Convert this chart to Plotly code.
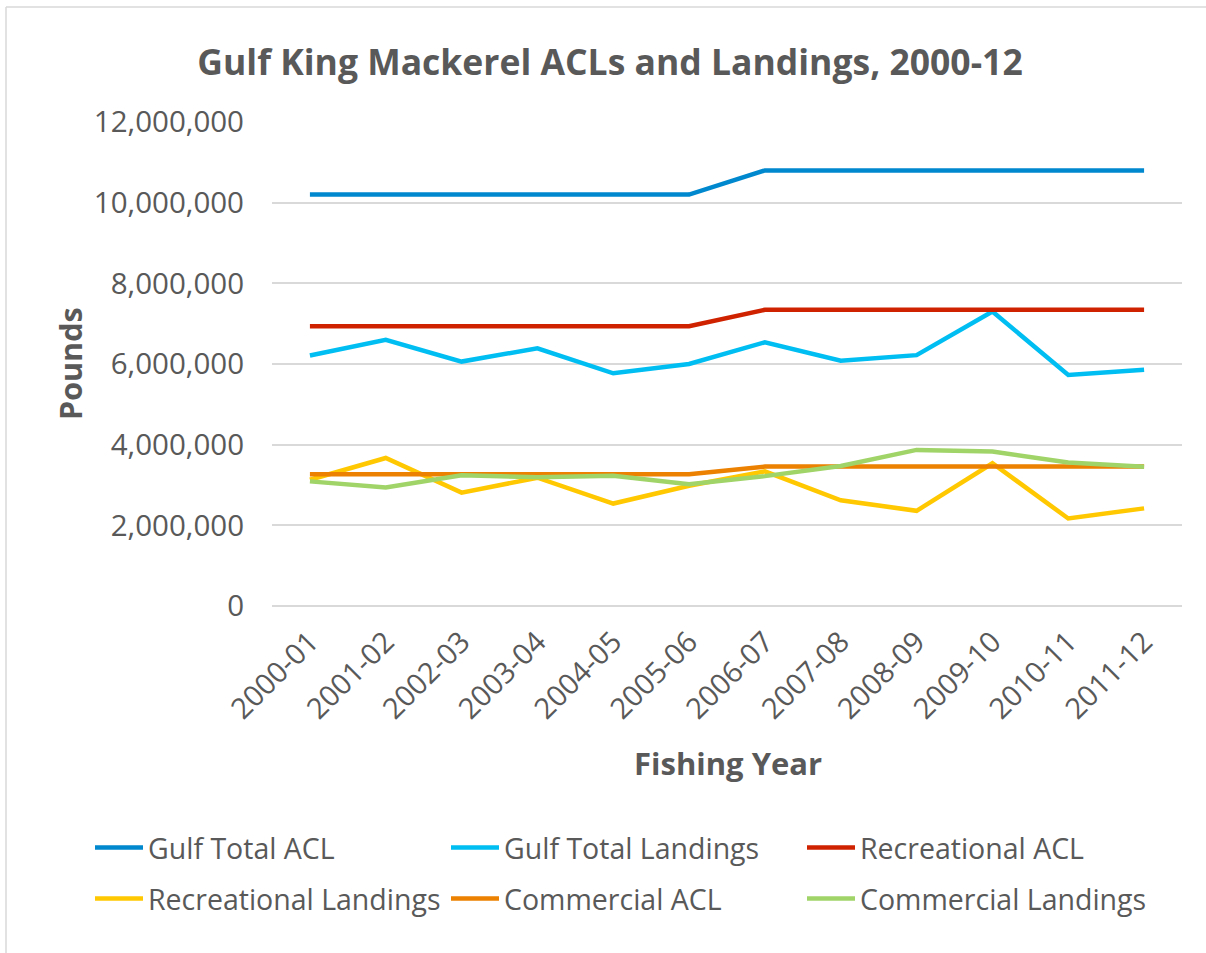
import plotly.graph_objects as go

years = ["2000-01", "2001-02", "2002-03", "2003-04", "2004-05", "2005-06",
         "2006-07", "2007-08", "2008-09", "2009-10", "2010-11", "2011-12"]

gulf_total_acl = [10200000, 10200000, 10200000, 10200000, 10200000, 10200000,
                  10800000, 10800000, 10800000, 10800000, 10800000, 10800000]
gulf_total_landings = [6210000, 6600000, 6060000, 6390000, 5770000, 6000000,
                       6540000, 6080000, 6220000, 7300000, 5730000, 5860000]
recreational_acl = [6936000, 6936000, 6936000, 6936000, 6936000, 6936000,
                    7344000, 7344000, 7344000, 7344000, 7344000, 7344000]
recreational_landings = [3130000, 3670000, 2810000, 3180000, 2540000, 2980000,
                         3340000, 2620000, 2360000, 3540000, 2170000, 2420000]
commercial_acl = [3264000, 3264000, 3264000, 3264000, 3264000, 3264000,
                  3456000, 3456000, 3456000, 3456000, 3456000, 3456000]
commercial_landings = [3090000, 2940000, 3240000, 3190000, 3230000, 3020000,
                       3220000, 3470000, 3870000, 3830000, 3560000, 3450000]

series = [
    ("Gulf Total ACL", gulf_total_acl, "#0088CE", "legend"),
    ("Gulf Total Landings", gulf_total_landings, "#00BEF2", "legend"),
    ("Recreational ACL", recreational_acl, "#CF2200", "legend"),
    ("Recreational Landings", recreational_landings, "#FFC800", "legend2"),
    ("Commercial ACL", commercial_acl, "#EC8000", "legend2"),
    ("Commercial Landings", commercial_landings, "#A0D468", "legend2"),
]

TEXT = "#595959"
FONT = "Open Sans"

fig = go.Figure()
for name, vals, color, leg in series:
    fig.add_trace(go.Scatter(
        x=years, y=vals, name=name, mode="lines",
        line=dict(color=color, width=4.5),
        legend=leg,
    ))

W, H = 1206, 953
L, R, T, B = 272, 24, 122, 347
pw, ph = W - L - R, H - T - B

def px_x(p):
    return (p - L) / pw

def px_y(p):
    return (H - B - p) / ph

legend_common = dict(
    orientation="h",
    font=dict(family=FONT, size=28.5, color=TEXT),
    entrywidth=293,
    entrywidthmode="pixels",
    itemwidth=48,
    bgcolor="rgba(0,0,0,0)",
    xanchor="left",
    yanchor="middle",
    itemclick=False,
)

fig.update_layout(
    width=W, height=H,
    margin=dict(l=L, r=R, t=T, b=B, autoexpand=False),
    paper_bgcolor="white",
    plot_bgcolor="white",
    font=dict(family=FONT, color=TEXT),
    title=dict(
        text="<b>Gulf King Mackerel ACLs and Landings, 2000-12</b>",
        font=dict(family=FONT, size=35.5, color=TEXT),
        x=610 / W, xref="container", xanchor="center",
        y=1 - 63 / H, yref="container", yanchor="middle",
    ),
    legend=dict(x=px_x(90), y=px_y(848), **legend_common),
    legend2=dict(x=px_x(90), y=px_y(899), **legend_common),
    xaxis=dict(
        type="category",
        range=[-0.5, 11.5],
        showgrid=False,
        showline=False,
        zeroline=False,
        tickangle=-45,
        ticks="",
        ticklabelstandoff=12,
        tickfont=dict(family=FONT, size=29, color=TEXT),
    ),
    yaxis=dict(
        range=[0, 12000000],
        dtick=2000000,
        tickformat=",d",
        showgrid=True,
        gridcolor="#D9D9D9",
        gridwidth=1.5,
        zeroline=True,
        zerolinecolor="#D9D9D9",
        zerolinewidth=1.5,
        showline=False,
        ticks="",
        ticklabelstandoff=27,
        tickfont=dict(family=FONT, size=29.5, color=TEXT),
    ),
    annotations=[
        dict(text="<b>Pounds</b>", textangle=-90,
             x=px_x(70), y=px_y(364), xref="paper", yref="paper",
             xanchor="center", yanchor="middle", showarrow=False,
             font=dict(family=FONT, size=30.5, color=TEXT)),
        dict(text="<b>Fishing Year</b>",
             x=px_x(728), y=px_y(763), xref="paper", yref="paper",
             xanchor="center", yanchor="middle", showarrow=False,
             font=dict(family=FONT, size=31, color=TEXT)),
    ],
    shapes=[
        dict(type="line", xref="paper", yref="paper",
             x0=px_x(6), x1=px_x(W), y0=px_y(7), y1=px_y(7),
             line=dict(color="#D9D9D9", width=1.5)),
        dict(type="line", xref="paper", yref="paper",
             x0=px_x(6), x1=px_x(6), y0=px_y(7), y1=px_y(H),
             line=dict(color="#D9D9D9", width=1.5)),
    ],
)

fig.write_html("out.html", config={"displayModeBar": False},
               post_script="document.body.style.margin='0';")
